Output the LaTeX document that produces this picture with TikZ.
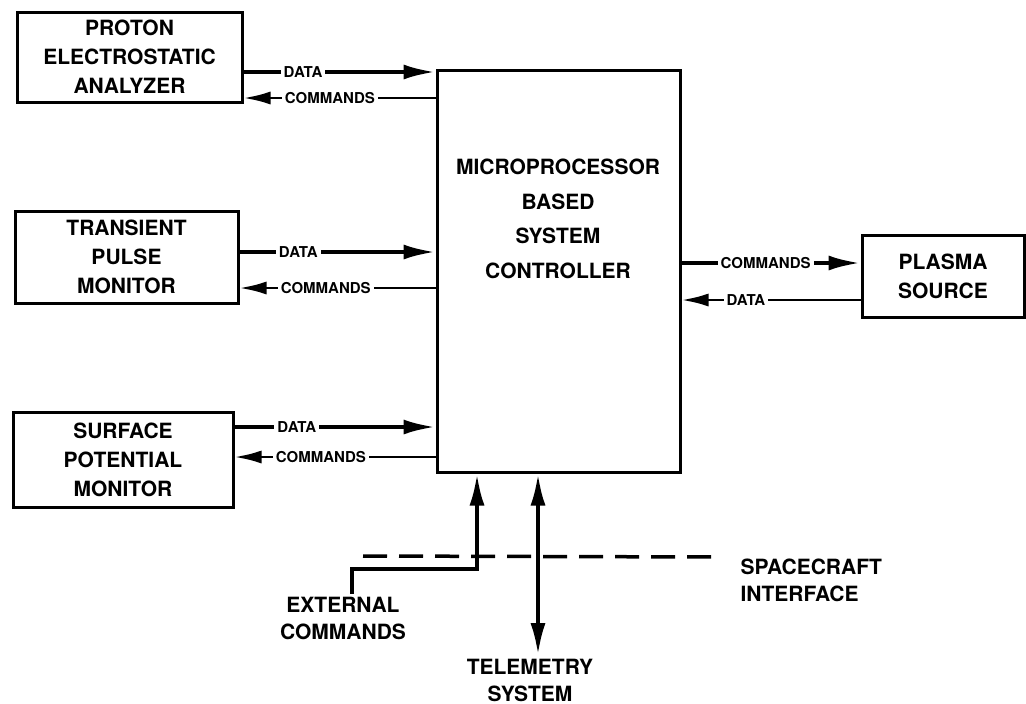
\documentclass[tikz,border=0pt]{standalone}
\usepackage{fontspec}
\setmainfont{TeX Gyre Heros}
\usetikzlibrary{arrows.meta}
\begin{document}
\begin{tikzpicture}[
    x=1pt, y=-1pt,
    box/.style={rectangle, draw, line width=3pt, align=center, inner sep=0pt, font=\fontsize{21}{29}\selectfont\bfseries},
    txt/.style={align=center, font=\fontsize{21}{27}\selectfont\bfseries},
    lbl/.style={fill=white, inner sep=3pt, font=\fontsize{15}{15}\selectfont\bfseries},
    tip/.style={-{Latex[length=32pt,width=15pt]}},
    heavy/.style={line width=4pt, tip},
    light/.style={line width=2.8pt, -{Latex[length=27pt,width=13pt]}},
    iface/.style={line width=3.5pt, dash pattern=on 24pt off 12pt}
]
    \useasboundingbox (0,0) rectangle (1026,704);

    % Boxes
    \node[box, minimum width=225pt, minimum height=90pt] (pea) at (129.5,57) {PROTON\\ELECTROSTATIC\\ANALYZER};
    \node[box, minimum width=223pt, minimum height=92pt] (tpm) at (126.5,257) {TRANSIENT\\PULSE\\MONITOR};
    \node[box, minimum width=220pt, minimum height=95pt] (spm) at (123,459.5) {SURFACE\\POTENTIAL\\MONITOR};
    \node[box, minimum width=243pt, minimum height=402pt] (ctrl) at (558.5,271) {};
    \node[txt, font=\fontsize{21}{34.5}\selectfont\bfseries] (ctrltxt) at (558,219) {MICROPROCESSOR\\BASED\\SYSTEM\\CONTROLLER};
    \node[box, minimum width=162pt, minimum height=82pt] (plasma) at (943,276) {PLASMA\\SOURCE};

    % Arrows to and from the instruments
    \draw[heavy] (pea.east |- 0,72) -- node[lbl, pos=.31] {DATA} (ctrl.west |- 0,72);
    \draw[light] (ctrl.west |- 0,98) -- node[lbl, pos=.55] {COMMANDS} (pea.east |- 0,98);
    \draw[heavy] (tpm.east |- 0,252) -- node[lbl, pos=.30] {DATA} (ctrl.west |- 0,252);
    \draw[light] (ctrl.west |- 0,288) -- node[lbl, pos=.56] {COMMANDS} (tpm.east |- 0,288);
    \draw[heavy] (spm.east |- 0,427) -- node[lbl, pos=.31] {DATA} (ctrl.west |- 0,427);
    \draw[light] (ctrl.west |- 0,457) -- node[lbl, pos=.57] {COMMANDS} (spm.east |- 0,457);
    \draw[heavy] (ctrl.east |- 0,263) -- node[lbl, pos=.47] {COMMANDS} (plasma.west |- 0,263);
    \draw[light] (plasma.west |- 0,300) -- node[lbl, pos=.64] {DATA} (ctrl.east |- 0,300);

    % Spacecraft side
    \node[txt] (extcmd) at (343,618.5) {EXTERNAL\\COMMANDS};
    \node[txt] (telem) at (530,680) {TELEMETRY\\SYSTEM};
    \node[txt, align=left, anchor=west] (scif) at (737,580.5) {SPACECRAFT\\INTERFACE};
    \coordinate (extbend) at (477,569);
    \coordinate (ifaceL) at (363,556);
    \coordinate (ifaceR) at (717,557);

    \draw[iface] (ifaceL) -- (ifaceR);
    \draw[heavy] ([xshift=9pt]extcmd.north) |- (extbend) -- (ctrl.south -| extbend);
    \draw[heavy, {Latex[length=32pt,width=15pt]}-{Latex[length=32pt,width=15pt]}] (telem.north -| 538,0) -- (ctrl.south -| 538,0);
\end{tikzpicture}
\end{document}
